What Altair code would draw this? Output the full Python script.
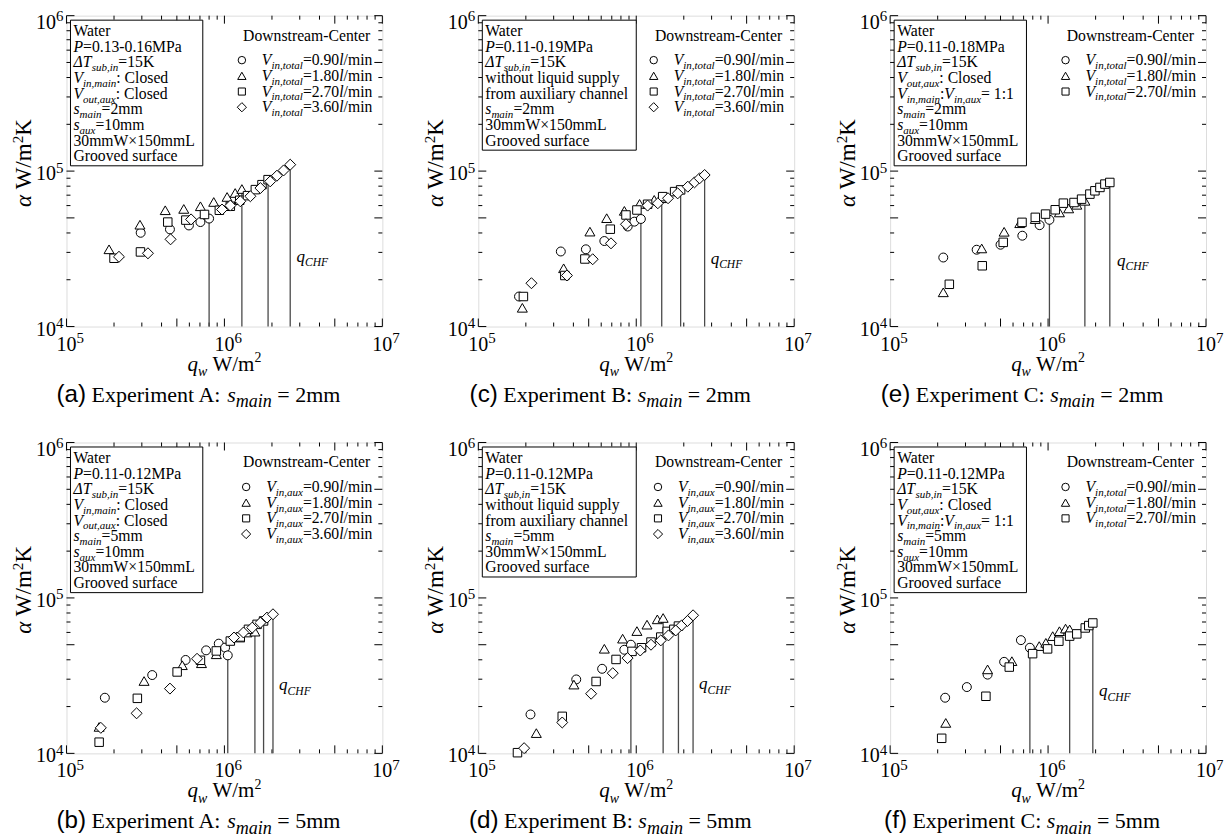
import math
import re
import altair as alt
import pandas as pd

SERIF = "Liberation Serif"
SANS = "Liberation Sans"
PW, PH = 316, 311

SERIES = ["0.90", "1.80", "2.70", "3.60"]
SHAPES = {"0.90": "circle", "1.80": "triangle-up", "2.70": "square", "3.60": "diamond"}
MSIZE = {"0.90": 80, "1.80": 100, "2.70": 72, "3.60": 121}

# ---------------- data (q_w in W/m2, alpha in W/m2K); last point of each series = CHF ----------------
A2_Q = {
    "0.90": [2.95e5, 4.52e5, 5.96e5, 7.05e5, 8.0e5],
    "1.80": [1.86e5, 2.92e5, 4.22e5, 5.53e5, 7.05e5, 8.56e5, 1.04e6, 1.17e6, 1.29e6],
    "2.70": [2.00e5, 2.94e5, 4.38e5, 5.70e5, 7.48e5, 9.29e5, 1.09e6, 1.25e6, 1.40e6, 1.57e6, 1.73e6, 1.89e6],
    "3.60": [2.15e5, 3.28e5, 4.56e5, 6.15e5, 9.66e5, 1.09e6, 1.26e6, 1.46e6, 1.69e6, 1.95e6, 2.15e6, 2.37e6, 2.61e6],
}
A2_A = {
    "0.90": [4.01e4, 4.22e4, 4.47e4, 4.70e4, 4.95e4],
    "1.80": [3.14e4, 4.52e4, 5.60e4, 5.71e4, 5.94e4, 6.33e4, 6.82e4, 7.23e4, 7.67e4],
    "2.70": [2.75e4, 3.02e4, 4.70e4, 4.84e4, 5.26e4, 5.60e4, 5.94e4, 6.49e4, 6.95e4, 7.60e4, 8.18e4, 8.81e4],
    "3.60": [2.81e4, 2.96e4, 3.64e4, 4.89e4, 5.66e4, 6.00e4, 6.40e4, 6.89e4, 7.78e4, 8.59e4, 9.34e4, 1.01e5, 1.10e5],
}
B2_Q = {
    "0.90": [1.81e5, 3.33e5, 4.80e5, 6.28e5, 8.83e5, 9.73e5, 1.07e6],
    "1.80": [1.90e5, 3.47e5, 5.09e5, 6.50e5, 8.41e5, 1.05e6, 1.30e6, 1.45e6],
    "2.70": [1.93e5, 3.53e5, 4.73e5, 6.85e5, 8.61e5, 1.01e6, 1.18e6, 1.47e6, 1.75e6, 1.91e6],
    "3.60": [2.17e5, 3.64e5, 5.30e5, 6.92e5, 8.61e5, 1.18e6, 1.37e6, 1.59e6, 1.83e6, 2.12e6, 2.34e6, 2.52e6, 2.71e6],
}
B2_A = {
    "0.90": [1.56e4, 3.04e4, 3.14e4, 3.55e4, 4.40e4, 4.73e4, 4.92e4],
    "1.80": [1.32e4, 2.37e4, 4.08e4, 4.98e4, 5.55e4, 6.15e4, 6.53e4, 6.69e4],
    "2.70": [1.56e4, 2.13e4, 2.72e4, 4.23e4, 5.22e4, 5.62e4, 6.12e4, 6.85e4, 7.38e4, 7.57e4],
    "3.60": [1.90e4, 2.13e4, 2.71e4, 3.43e4, 4.55e4, 6.00e4, 6.21e4, 6.69e4, 7.19e4, 7.94e4, 8.47e4, 8.99e4, 9.44e4],
}
C2_Q = {
    "0.90": [2.17e5, 3.53e5, 5.00e5, 6.87e5, 8.84e5, 1.02e6],
    "1.80": [2.17e5, 3.80e5, 5.27e5, 6.62e5, 8.30e5, 1.18e6, 1.35e6, 1.52e6, 1.71e6],
    "2.70": [2.37e5, 3.83e5, 5.20e5, 6.84e5, 8.30e5, 9.64e5, 1.11e6, 1.25e6, 1.46e6, 1.63e6, 1.84e6, 1.98e6, 2.13e6, 2.29e6, 2.46e6],
}
C2_A = {
    "0.90": [2.78e4, 3.12e4, 3.36e4, 3.84e4, 4.49e4, 4.86e4],
    "1.80": [1.66e4, 3.18e4, 4.07e4, 4.62e4, 4.91e4, 5.42e4, 5.75e4, 6.07e4, 6.44e4],
    "2.70": [1.87e4, 2.46e4, 3.48e4, 4.68e4, 5.04e4, 5.29e4, 5.64e4, 6.22e4, 6.28e4, 6.60e4, 7.11e4, 7.47e4, 7.85e4, 8.25e4, 8.45e4],
}
A5_Q = {
    "0.90": [1.75e5, 3.49e5, 5.68e5, 7.66e5, 9.21e5, 1.01e6, 1.05e6],
    "1.80": [1.61e5, 3.10e5, 5.41e5, 7.16e5, 8.89e5, 1.25e6, 1.39e6, 1.56e6],
    "2.70": [1.61e5, 2.81e5, 5.02e5, 7.05e5, 8.89e5, 1.09e6, 1.26e6, 1.42e6, 1.61e6, 1.77e6],
    "3.60": [1.65e5, 2.78e5, 4.52e5, 6.71e5, 1.15e6, 1.32e6, 1.50e6, 1.69e6, 1.86e6, 2.03e6],
}
A5_A = {
    "0.90": [2.28e4, 3.19e4, 3.99e4, 4.60e4, 5.08e4, 4.79e4, 4.27e4],
    "1.80": [1.48e4, 2.92e4, 3.69e4, 3.80e4, 4.34e4, 5.56e4, 5.99e4, 6.07e4],
    "2.70": [1.18e4, 2.26e4, 3.34e4, 3.97e4, 4.56e4, 5.28e4, 5.61e4, 6.28e4, 6.76e4, 7.11e4],
    "3.60": [1.46e4, 1.81e4, 2.61e4, 4.06e4, 5.56e4, 5.99e4, 6.44e4, 6.93e4, 7.47e4, 7.85e4],
}
B5_Q = {
    "0.90": [2.14e5, 4.17e5, 6.08e5, 8.40e5, 9.25e5],
    "1.80": [2.33e5, 4.03e5, 6.28e5, 8.20e5, 1.01e6, 1.17e6, 1.36e6, 1.48e6],
    "2.70": [1.77e5, 3.40e5, 5.57e5, 7.45e5, 9.40e5, 1.08e6, 1.24e6, 1.43e6, 1.57e6, 1.73e6, 1.85e6],
    "3.60": [1.95e5, 3.40e5, 5.18e5, 7.10e5, 8.81e5, 1.06e6, 1.24e6, 1.43e6, 1.60e6, 1.78e6, 1.94e6, 2.11e6, 2.29e6],
}
B5_A = {
    "0.90": [1.78e4, 2.99e4, 3.50e4, 4.64e4, 5.00e4],
    "1.80": [1.35e4, 2.77e4, 4.71e4, 5.47e4, 6.12e4, 6.73e4, 7.28e4, 7.43e4],
    "2.70": [1.01e4, 1.73e4, 2.90e4, 4.02e4, 4.53e4, 4.78e4, 5.20e4, 5.60e4, 6.09e4, 6.28e4, 6.59e4],
    "3.60": [1.08e4, 1.58e4, 2.42e4, 3.28e4, 4.10e4, 4.59e4, 5.00e4, 5.33e4, 5.74e4, 6.18e4, 6.66e4, 7.11e4, 7.73e4],
}
C5_Q = {
    "0.90": [2.23e5, 3.06e5, 4.14e5, 5.27e5, 6.73e5, 7.67e5],
    "1.80": [2.25e5, 4.14e5, 5.90e5, 8.79e5, 9.68e5, 1.07e6, 1.18e6, 1.29e6, 1.37e6],
    "2.70": [2.12e5, 4.04e5, 5.68e5, 7.98e5, 9.93e5, 1.17e6, 1.37e6, 1.52e6, 1.72e6, 1.81e6, 1.92e6],
}
C5_A = {
    "0.90": [2.28e4, 2.67e4, 3.21e4, 3.88e4, 5.35e4, 4.78e4],
    "1.80": [1.57e4, 3.47e4, 3.92e4, 4.90e4, 5.14e4, 5.68e4, 6.11e4, 6.35e4, 6.27e4],
    "2.70": [1.25e4, 2.33e4, 3.59e4, 4.38e4, 4.70e4, 5.27e4, 5.68e4, 5.87e4, 6.41e4, 6.64e4, 6.90e4],
}

# ---------------- texts ----------------
INFO_A2 = ["Water", "{i|P}=0.13-0.16MPa", "{i|ΔT}{bi|sub,in}=15K", "{i|V}{bi|in,main}: Closed",
           "{i|V}{bi|out,aux}: Closed", "{i|s}{bi|main}=2mm", "{i|s}{bi|aux}=10mm", "30mmW×150mmL", "Grooved surface"]
INFO_B2 = ["Water", "{i|P}=0.11-0.19MPa", "{i|ΔT}{bi|sub,in}=15K", "without liquid supply",
           "from auxiliary channel", "{i|s}{bi|main}=2mm", "30mmW×150mmL", "Grooved surface"]
INFO_C2 = ["Water", "{i|P}=0.11-0.18MPa", "{i|ΔT}{bi|sub,in}=15K", "{i|V}{bi|out,aux}: Closed",
           "{i|V}{bi|in,main}:{i|V}{bi|in,aux}= 1:1", "{i|s}{bi|main}=2mm", "{i|s}{bi|aux}=10mm", "30mmW×150mmL", "Grooved surface"]
INFO_A5 = ["Water", "{i|P}=0.11-0.12MPa", "{i|ΔT}{bi|sub,in}=15K", "{i|V}{bi|in,main}: Closed",
           "{i|V}{bi|out,aux}: Closed", "{i|s}{bi|main}=5mm", "{i|s}{bi|aux}=10mm", "30mmW×150mmL", "Grooved surface"]
INFO_B5 = ["Water", "{i|P}=0.11-0.12MPa", "{i|ΔT}{bi|sub,in}=15K", "without liquid supply",
           "from auxiliary channel", "{i|s}{bi|main}=5mm", "30mmW×150mmL", "Grooved surface"]
INFO_C5 = ["Water", "{i|P}=0.11-0.12MPa", "{i|ΔT}{bi|sub,in}=15K", "{i|V}{bi|out,aux}: Closed",
           "{i|V}{bi|in,main}:{i|V}{bi|in,aux}= 1:1", "{i|s}{bi|main}=5mm", "{i|s}{bi|aux}=10mm", "30mmW×150mmL", "Grooved surface"]

LEGEND_TITLE = "Downstream-Center"
X_TITLE = "{i|q}{bi|w} W/m{p|2}"
Y_TITLE = "{i|α} W/m{p|2}K"
CHF_LABEL = "{i|q}{bi|CHF}"
X_TICKS = [1e5, 1e6, 1e7]
Y_TICKS = [1e4, 1e5, 1e6]

PANELS = [
    dict(q=A2_Q, a=A2_A, info=INFO_A2, vsub="in,total", chf=(2.86e6, 2.62e4),
         caption="{s|(a)} Experiment A: {i|s}{bi|main} = 2mm"),
    dict(q=B2_Q, a=B2_A, info=INFO_B2, vsub="in,total", chf=(2.96e6, 2.54e4),
         caption="{s|(c)} Experiment B: {i|s}{bi|main} = 2mm"),
    dict(q=C2_Q, a=C2_A, info=INFO_C2, vsub="in,total", chf=(2.73e6, 2.47e4),
         caption="{s|(e)} Experiment C: {i|s}{bi|main} = 2mm"),
    dict(q=A5_Q, a=A5_A, info=INFO_A5, vsub="in,aux", chf=(2.22e6, 2.54e4),
         caption="{s|(b)} Experiment A: {i|s}{bi|main} = 5mm"),
    dict(q=B5_Q, a=B5_A, info=INFO_B5, vsub="in,aux", chf=(2.50e6, 2.58e4),
         caption="{s|(d)} Experiment B: {i|s}{bi|main} = 5mm"),
    dict(q=C5_Q, a=C5_A, info=INFO_C5, vsub="in,total", chf=(2.10e6, 2.33e4),
         caption="{s|(f)} Experiment C: {i|s}{bi|main} = 5mm"),
]

# ---------------- text metrics (Times-compatible) ----------------
def _tbl(spec):
    d = {}
    for w, chars in spec:
        for c in chars:
            d[c] = w
    return d

ROMAN_W = _tbl([(250, " .,"), (278, "ijlt/:"), (333, "()-frI"), (389, "s"), (444, "acez"),
                (500, "0123456789bdghknopquvxy"), (556, "FPS"), (564, "=×"), (611, "ELTZ"),
                (612, "Δ"), (667, "BCR"), (722, "ADGHKNOUVXYw"), (778, "m"), (889, "M"), (944, "W")])
ITAL_W = _tbl([(250, " .,"), (278, "ijlt/:f"), (333, "()-I"), (389, "rsz"), (444, "cekvxy"),
               (500, "0123456789abdghnopquS"), (520, "α"), (556, "LTYZ"), (611, "ABEFPRVX"),
               (612, "Δ"), (667, "CKNw"), (675, "=×"), (722, "DGHOUm"), (833, "MW")])
SANS_W = _tbl([(222, "ijl"), (278, " .,/ft"), (333, "()-"), (500, "ckvxyz"),
               (556, "abdeghnopqu0123456789")])


def parse(markup):
    runs, pos = [], 0
    for m in re.finditer(r"\{([a-z]*)\|([^}]*)\}", markup):
        if m.start() > pos:
            runs.append((markup[pos:m.start()], ""))
        runs.append((m.group(2), m.group(1)))
        pos = m.end()
    if pos < len(markup):
        runs.append((markup[pos:], ""))
    return runs


def ems(text, st):
    tbl = SANS_W if "s" in st else (ITAL_W if "i" in st else ROMAN_W)
    return sum(tbl.get(c, 500) for c in text) / 1000.0


def rsize(st, fs, small):
    if "b" in st or "p" in st:
        return fs * small
    if "s" in st:
        return fs * 1.1
    return fs


def line_width(markup, fs, small=0.7):
    return sum(ems(t, st) * rsize(st, fs, small) for t, st in parse(markup))


def place(markup, x, y, fs, align="left", small=0.7, rotate=False, drop=0.25, rise=0.40):
    total = line_width(markup, fs, small)
    adv = {"left": 0.0, "center": -total / 2, "right": -total}[align]
    rows = []
    for t, st in parse(markup):
        sz = rsize(st, fs, small)
        shift = drop * fs if "b" in st else (-rise * fs if "p" in st else 0.0)
        lead = len(t) - len(t.lstrip(" "))
        adv += lead * ems(" ", st) * sz
        body = t.strip(" ")
        if body:
            if rotate:
                px, py = x + shift, y - adv
            else:
                px, py = x + adv, y + shift
            rows.append(dict(x=px, y=py, text=body, size=sz,
                             italic="i" in st, sans="s" in st, rot=rotate))
        adv += ems(t.lstrip(" "), st) * sz
    return rows


def xpix(v):
    return (math.log10(v) - 5) / 2 * PW


def ypix(v):
    return PH - (math.log10(v) - 4) / 2 * PH


XS = alt.Scale(type="log", domain=[1e5, 1e7], nice=False)
YS = alt.Scale(type="log", domain=[1e4, 1e6], nice=False)

X_BIG = [1e5, 5e5, 1e6, 5e6, 1e7]
X_SMALL = [k * 10 ** e for e in (5, 6) for k in (2, 3, 4, 6, 7, 8, 9)]
Y_BIG = [1e4, 5e4, 1e5, 5e5, 1e6]
Y_SMALL = [k * 10 ** e for e in (4, 5) for k in (2, 3, 4, 6, 7, 8, 9)]

BOX_FS = 15.7
LINE_H = 15.65


def tick_layers():
    layers = []
    for vals, ln in ((X_BIG, 8), (X_SMALL, 4)):
        df = pd.DataFrame({"v": vals})
        xe = alt.X("v:Q", scale=XS, axis=None)
        layers.append(alt.Chart(df).mark_rule(color="black", strokeWidth=1).encode(
            x=xe, y=alt.value(PH), y2=alt.value(PH - ln)))
        layers.append(alt.Chart(df).mark_rule(color="black", strokeWidth=1).encode(
            x=xe, y=alt.value(0), y2=alt.value(ln)))
    for vals, ln in ((Y_BIG, 8), (Y_SMALL, 4)):
        df = pd.DataFrame({"v": vals})
        ye = alt.Y("v:Q", scale=YS, axis=None)
        layers.append(alt.Chart(df).mark_rule(color="black", strokeWidth=1).encode(
            y=ye, x=alt.value(0), x2=alt.value(ln)))
        layers.append(alt.Chart(df).mark_rule(color="black", strokeWidth=1).encode(
            y=ye, x=alt.value(PW), x2=alt.value(PW - ln)))
    return layers


def panel(cfg, first=False):
    layers = tick_layers()
    keys = [s for s in SERIES if s in cfg["q"]]

    # CHF vertical lines (last point of each series down to the axis)
    chf = pd.DataFrame({"q": [cfg["q"][s][-1] for s in keys], "a": [cfg["a"][s][-1] for s in keys]})
    layers.append(alt.Chart(chf).mark_rule(color="#4a4a4a", strokeWidth=1.3).encode(
        x=alt.X("q:Q", scale=XS, axis=None), y=alt.Y("a:Q", scale=YS, axis=None), y2=alt.datum(1e4)))

    # data points
    for s in keys:
        df = pd.DataFrame({"q": cfg["q"][s], "a": cfg["a"][s]})
        layers.append(alt.Chart(df).mark_point(
            shape=SHAPES[s], size=MSIZE[s], filled=True, fill="white", stroke="black",
            strokeWidth=1, opacity=1).encode(
            x=alt.X("q:Q", scale=XS, axis=None), y=alt.Y("a:Q", scale=YS, axis=None)))

    rows = []
    # info box
    tx, ty0 = 7, 20.5
    maxw = max(line_width(l, BOX_FS) for l in cfg["info"])
    for i, l in enumerate(cfg["info"]):
        rows += place(l, tx, ty0 + i * LINE_H, BOX_FS)
    bx0, bx1 = 4, tx + maxw + 8
    by0, by1 = 4.5, ty0 + (len(cfg["info"]) - 1) * LINE_H + 4.5
    layers.append(alt.Chart(pd.DataFrame({"k": [0]})).mark_rect(
        fill="white", stroke="black", strokeWidth=1).encode(
        x=alt.value(bx0), x2=alt.value(bx1), y=alt.value(by0), y2=alt.value(by1)))

    # legend
    rows += place(LEGEND_TITLE, 304, 25, BOX_FS, align="right")
    labels = ["{i|V}{bi|" + cfg["vsub"] + "}=" + s + "{i|l}/min" for s in keys]
    lw = max(line_width(l, BOX_FS) for l in labels)
    lx = 306 - lw
    leg_pts = []
    for i, (s, l) in enumerate(zip(keys, labels)):
        cy = 44.5 + i * 15.7
        rows += place(l, lx, cy + 5, BOX_FS)
        leg_pts.append((s, lx - 20, cy))

    # q_CHF label
    rows += place(CHF_LABEL, xpix(cfg["chf"][0]), ypix(cfg["chf"][1]), 17, small=0.68)

    # tick labels
    for v in X_TICKS:
        e = int(round(math.log10(v)))
        rows += place("10{p|%d}" % e, xpix(v) - 10, PH + 24, 20, small=0.75, rise=0.38)
    for v in Y_TICKS:
        e = int(round(math.log10(v)))
        rows += place("10{p|%d}" % e, -3, max(ypix(v) + 9, 13.3), 20, align="right", small=0.75, rise=0.38)

    # axis titles & caption
    rows += place(X_TITLE, PW / 2, PH + 44, 21, align="center", small=0.66)
    rows += place(Y_TITLE, -35, PH / 2 - 8, 23, align="center", small=0.66, rotate=True, rise=0.36)
    rows += place(cfg["caption"], PW / 2 - 26, PH + 75, 22, align="center", small=0.82)

    tdf = pd.DataFrame(rows)
    for (it, sa, rot), g in tdf.groupby(["italic", "sans", "rot"]):
        layers.append(alt.Chart(g.reset_index(drop=True)).mark_text(
            font=SANS if sa else SERIF, fontStyle="italic" if it else "normal",
            align="left", baseline="alphabetic", angle=270 if rot else 0, color="black").encode(
            x=alt.X("x:Q", scale=None, axis=None), y=alt.Y("y:Q", scale=None, axis=None),
            text="text:N", size=alt.Size("size:Q", scale=None, legend=None)))

    for s, x, y in leg_pts:
        layers.append(alt.Chart(pd.DataFrame({"x": [x], "y": [y]})).mark_point(
            shape=SHAPES[s], size=MSIZE[s] * 0.7, filled=True, fill="white", stroke="black",
            strokeWidth=1, opacity=1).encode(
            x=alt.X("x:Q", scale=None, axis=None), y=alt.Y("y:Q", scale=None, axis=None)))

    if first:
        # white layout anchor fixing the figure's outer bounds
        layers.append(alt.Chart(pd.DataFrame({"k": [0]})).mark_rule(color="white", strokeWidth=1).encode(
            x=alt.value(-70), x2=alt.value(-69), y=alt.value(-20), y2=alt.value(-20)))

    return alt.layer(*layers).properties(width=PW, height=PH)


charts = [panel(c, first=(i == 0)) for i, c in enumerate(PANELS)]
chart = alt.concat(*charts, columns=3, spacing={"row": 116, "column": 96}, bounds="flush").properties(
    padding={"left": -12.5, "top": -13.5, "right": 0, "bottom": 0}
).configure_view(stroke="black", strokeWidth=1).configure(background="white")

chart.save("out.html", embed_options={"renderer": "svg", "actions": False})
